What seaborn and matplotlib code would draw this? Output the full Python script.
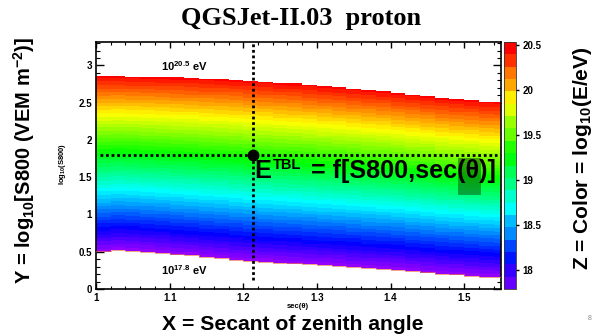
import colorsys

import matplotlib
matplotlib.use("Agg")
import matplotlib.pyplot as plt
import matplotlib.patches as mpatches
import numpy as np
import pandas as pd
import seaborn as sns
from matplotlib.cm import ScalarMappable
from matplotlib.colors import ListedColormap, BoundaryNorm
from matplotlib.ticker import FixedLocator

sns.set_style("ticks")
plt.rcParams["font.family"] = ["Liberation Sans", "DejaVu Sans"]
plt.rcParams["font.weight"] = "bold"
plt.rcParams["mathtext.default"] = "regular"
for key in ["text.color", "axes.labelcolor", "xtick.color", "ytick.color", "axes.edgecolor"]:
    plt.rcParams[key] = "black"

# sec(theta) bins (centres, width 0.02)
sec_bins = [1.01, 1.03, 1.05, 1.07, 1.09, 1.11, 1.13, 1.15, 1.17, 1.19,
            1.21, 1.23, 1.25, 1.27, 1.29, 1.31, 1.33, 1.35, 1.37, 1.39,
            1.41, 1.43, 1.45, 1.47, 1.49, 1.51, 1.53, 1.55]
SEC_W = 0.02
# log10(S800) reached by a 10^17.8 eV and a 10^20.5 eV shower in each bin
log_s800_e178 = [0.505, 0.523, 0.515, 0.500, 0.485, 0.465, 0.450, 0.430, 0.415, 0.395,
                 0.380, 0.365, 0.353, 0.345, 0.330, 0.320, 0.310, 0.295, 0.280, 0.270,
                 0.260, 0.240, 0.225, 0.205, 0.195, 0.180, 0.165, 0.157]
log_s800_e205 = [2.855, 2.855, 2.850, 2.845, 2.840, 2.835, 2.830, 2.820, 2.815, 2.805,
                 2.790, 2.780, 2.765, 2.755, 2.740, 2.720, 2.705, 2.690, 2.670, 2.655,
                 2.630, 2.610, 2.590, 2.565, 2.545, 2.530, 2.510, 2.505]
E_LOW, E_HIGH = 17.8, 20.5
Z_MIN, Z_MAX = 17.79, 20.53

x_ticks = [1.0, 1.1, 1.2, 1.3, 1.4, 1.5]
x_tick_labels = ["1", "1.1", "1.2", "1.3", "1.4", "1.5"]
y_ticks = [0, 0.5, 1, 1.5, 2, 2.5, 3]
y_tick_labels = ["0", "0.5", "1", "1.5", "2", "2.5", "3"]
z_ticks = [18, 18.5, 19, 19.5, 20, 20.5]
z_tick_labels = ["18", "18.5", "19", "19.5", "20", "20.5"]

# reference point of the lookup table
sec_ref, s800_ref = 1.2135, 1.80

# log10(S800) binning of the table
DY = 0.01
Y_TOP = 3.315
y_centres = np.arange(DY / 2, 3.32, DY)

# energy table: log10(E) grows linearly with log10(S800) in every sec(theta) bin
lo = np.array(log_s800_e178)
hi = np.array(log_s800_e205)
energy = E_LOW + (y_centres[:, None] - lo[None, :]) / (hi - lo)[None, :] * (E_HIGH - E_LOW)
table = pd.DataFrame(energy, index=np.round(y_centres, 3), columns=sec_bins)
outside = (table < E_LOW) | (table > E_HIGH)

# ROOT "pretty" palette: 50 hues from violet to red
N_COL = 50
palette = [colorsys.hls_to_rgb((280 - (i + 1) * 280 / N_COL) / 360, 0.5, 1.0)
           for i in range(N_COL)]
cmap = ListedColormap(palette)
# palette axis shows 20 contour bands
N_CONT = 20
band_colors = [palette[int((k + 0.99) * N_COL / N_CONT)] for k in range(N_CONT)]
band_cmap = ListedColormap(band_colors)
band_norm = BoundaryNorm(np.linspace(Z_MIN, Z_MAX, N_CONT + 1), N_CONT)

W, H = 594, 336
fig = plt.figure(figsize=(W / 100, H / 100), dpi=100)
fig.patch.set_facecolor("white")


def fx(px):
    return px / W


def fy(py):
    return 1 - py / H


ax = fig.add_axes([fx(96), fy(289), 405 / W, 247 / H])
cax = fig.add_axes([fx(504), fy(289), 12 / W, 247 / H])

sns.heatmap(table, ax=ax, cmap=cmap, vmin=Z_MIN, vmax=Z_MAX, mask=outside,
            cbar=False, xticklabels=False, yticklabels=False, linewidths=0)


def xi(v):
    return (v - (sec_bins[0] - SEC_W / 2)) / SEC_W


def yi(v):
    return v / DY


ax.set_xlim(xi(1.0), xi(1.55))
ax.set_ylim(yi(0), yi(Y_TOP))
ax.set_xlabel("")
ax.set_ylabel("")

# ticks on all four sides, pointing in
ax.xaxis.set_major_locator(FixedLocator([xi(v) for v in x_ticks]))
ax.set_xticklabels(x_tick_labels)
ax.xaxis.set_minor_locator(FixedLocator([xi(1.0 + 0.02 * k) for k in range(28)]))
ax.yaxis.set_major_locator(FixedLocator([yi(v) for v in y_ticks]))
ax.set_yticklabels(y_tick_labels)
ax.yaxis.set_minor_locator(FixedLocator([yi(0.1 * k) for k in range(34)]))
ax.tick_params(axis="x", which="major", direction="in", length=4.0, width=1.0,
               top=True, bottom=True, labelsize=7, pad=3, rotation=0, colors="black")
ax.tick_params(axis="x", which="minor", direction="in", length=2.0, width=0.8,
               top=True, bottom=True, colors="black")
ax.tick_params(axis="y", which="major", direction="in", length=6.0, width=1.0,
               left=True, right=True, labelsize=7, pad=3, rotation=0, colors="black")
ax.tick_params(axis="y", which="minor", direction="in", length=3.0, width=0.8,
               left=True, right=True, colors="black")
for lab in ax.get_xticklabels() + ax.get_yticklabels():
    lab.set_fontweight("bold")
for sp in ax.spines.values():
    sp.set_visible(True)
    sp.set_linewidth(1.2)
    sp.set_color("black")

# thin edge along the low-energy limit
edge_x = np.repeat(np.arange(len(sec_bins) + 1), 2)[1:-1]
edge_y = np.repeat(lo, 2) / DY
ax.plot(edge_x, edge_y, color="#f07050", lw=0.6, alpha=0.8, zorder=3)

# reference lines and point
dot = (0, (1, 1))
ax.plot([xi(sec_ref)] * 2, [yi(0.12), yi(Y_TOP)], color="black", lw=2.0, ls=dot, zorder=4)
ax.plot([xi(1.005), xi(1.545)], [yi(s800_ref)] * 2, color="black", lw=2.0, ls=dot, zorder=4)
ax.plot([xi(sec_ref)], [yi(s800_ref)], "o", color="black", ms=7.5, zorder=5)

# palette axis
cbar = fig.colorbar(ScalarMappable(norm=band_norm, cmap=band_cmap), cax=cax)
cbar.set_ticks(z_ticks)
cbar.set_ticklabels(z_tick_labels)
cbar.outline.set_linewidth(0.6)
cbar.outline.set_edgecolor("#333333")
cax.tick_params(direction="inout", length=5, width=1.0, labelsize=7, pad=2, colors="black")
cax.minorticks_off()
for lab in cax.get_yticklabels():
    lab.set_fontweight("bold")

# texts
fig.text(fx(301), fy(18), "QGSJet-II.03  proton", ha="center", va="center",
         family="Liberation Serif", weight="bold", size=19, color="black")
fig.text(fx(161), fy(66), r"10$^{20.5}$ eV", ha="left", va="center", size=8, weight="bold")
fig.text(fx(161), fy(270), r"10$^{17.8}$ eV", ha="left", va="center", size=8, weight="bold")

# lookup-table formula
fig.text(fx(254), fy(178), "E", ha="left", va="baseline", size=18.2, weight="bold", zorder=6)
fig.text(fx(273), fy(169), "TBL", ha="left", va="baseline", size=10.5, weight="bold", zorder=6)
fig.text(fx(311), fy(178), "= f[S800,sec(θ)]", ha="left", va="baseline",
         size=18.2, weight="bold", zorder=6)
fig.patches.append(mpatches.Rectangle((fx(458), fy(195)), 23 / W, 37 / H,
                                      transform=fig.transFigure, facecolor="#0b4d0b",
                                      alpha=0.5, edgecolor="none", zorder=2))

fig.text(fx(298), fy(307), "sec(θ)", ha="center", va="center", size=5.5, weight="bold")
fig.text(fx(63), fy(164), r"log$_{10}$(S800)", ha="center", va="center", rotation=90,
         size=5.5, weight="bold")
fig.text(fx(293), fy(325), "X = Secant of zenith angle", ha="center", va="center",
         size=15.2, weight="bold")
fig.text(fx(24), fy(160), r"Y = log$_{10}$[S800 (VEM m$^{-2}$)]", ha="center", va="center",
         rotation=90, size=14.5, weight="bold")
fig.text(fx(582), fy(158), r"Z = Color = log$_{10}$(E/eV)", ha="center", va="center",
         rotation=90, size=15, weight="bold")
fig.text(fx(590), fy(318), "8", ha="center", va="center", size=5, color="#888888",
         weight="normal")

fig.savefig("out.png", dpi=100, facecolor="white")
